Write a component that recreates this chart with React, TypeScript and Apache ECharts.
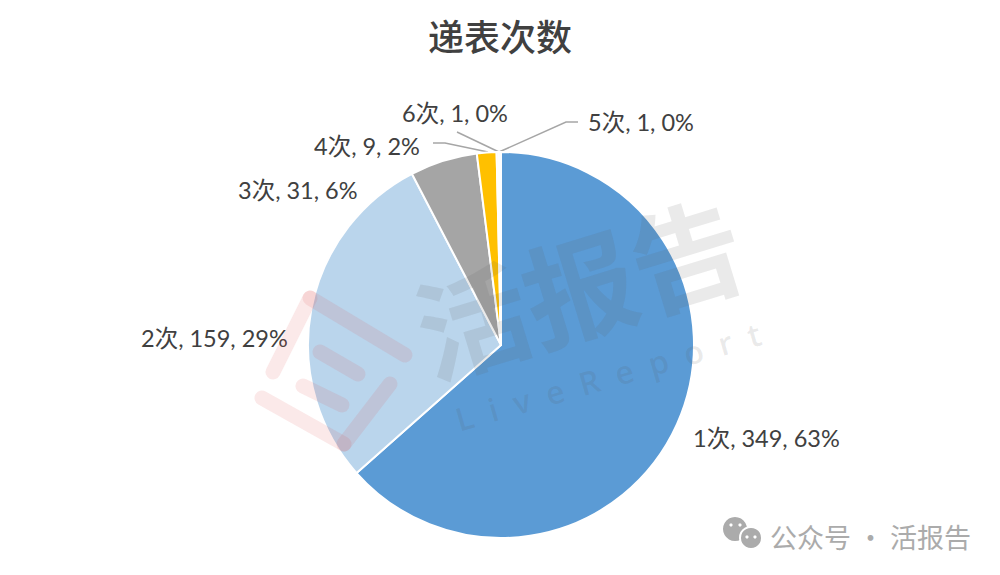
import React, { useEffect, useRef } from "react";
import * as echarts from "echarts";

const categories = ["1次", "2次", "3次", "4次", "5次", "6次"];
const values = [349, 159, 31, 9, 1, 1];
const colors = ["#5B9BD5", "#BAD5EC", "#A5A5A5", "#FFC000", "#FBF3D0", "#F3F6FA"];
const titleText = "递表次数";
const watermarkMain = "活报告";
const watermarkSub = "L  i  v  e  R  e  p  o  r  t";
const footerText = "公众号 · 活报告";

const labelSpots: any = [
  { x: 693, y: 438, align: "left" },
  { x: 141, y: 338, align: "left" },
  { x: 238, y: 190, align: "left" },
  { x: 314, y: 146, align: "left" },
  { x: 588, y: 122, align: "left" },
  { x: 402, y: 113, align: "left" },
];
const leaderLines: any = {
  3: [[433, 143], [445, 143], [488, 152]],
  4: [[578, 122], [566, 122], [499, 152]],
  5: [[457, 132], [478, 142], [499, 152]],
};

const FONT = "Lato, 'Noto Sans CJK SC', sans-serif";
const WM = "rgba(90,90,90,0.13)";
const RED = "rgba(226,70,70,0.12)";

const stroke = (x1: number, y1: number, x2: number, y2: number, lineWidth = 15) => ({
  type: "line",
  z: 50,
  silent: true,
  shape: { x1, y1, x2, y2 },
  style: { stroke: RED, lineWidth, lineCap: "round" },
});

export default function App() {
  const ref = useRef<HTMLDivElement>(null);
  useEffect(() => {
    document.body.style.margin = "0";
    const chart = echarts.init(ref.current!, null, { renderer: "svg" });
    chart.setOption({
      animation: false,
      backgroundColor: "#ffffff",
      title: {
        text: titleText,
        left: "center",
        top: 14,
        textStyle: { fontFamily: FONT, fontSize: 36, fontWeight: 500, color: "#404040" },
      },
      color: colors,
      series: [
        {
          type: "pie",
          center: [501, 345],
          radius: [0, 193],
          startAngle: 90,
          clockwise: true,
          percentPrecision: 0,
          avoidLabelOverlap: false,
          itemStyle: { borderColor: "#ffffff", borderWidth: 2 },
          label: {
            show: true,
            formatter: "{b}, {c}, {d}%",
            fontFamily: FONT,
            fontSize: 23.5,
            color: "#404040",
          },
          labelLine: { show: true, lineStyle: { color: "#A6A6A6", width: 1.5 } },
          labelLayout: (p: any) => {
            const s = labelSpots[p.dataIndex];
            const pts = leaderLines[p.dataIndex];
            return {
              x: s.x,
              y: s.y,
              align: s.align,
              verticalAlign: "middle",
              hideOverlap: false,
              labelLinePoints: pts || [[s.x, s.y], [s.x, s.y], [s.x, s.y]],
            };
          },
          data: categories.map((name, i) => ({ name, value: values[i] })),
        },
      ],
      graphic: [
        {
          type: "text",
          z: 50,
          silent: true,
          x: 578,
          y: 283,
          rotation: (17 * Math.PI) / 180,
          style: {
            text: watermarkMain,
            fontFamily: "'Noto Sans CJK SC', sans-serif",
            fontWeight: 700,
            fontSize: 112,
            fill: WM,
            align: "center",
            verticalAlign: "middle",
          },
        },
        {
          type: "text",
          z: 50,
          silent: true,
          x: 608,
          y: 376,
          rotation: (16 * Math.PI) / 180,
          style: {
            text: watermarkSub,
            fontFamily: "'Open Sans', sans-serif",
            fontWeight: 600,
            fontSize: 32,
            fill: WM,
            align: "center",
            verticalAlign: "middle",
          },
        },
        stroke(310, 298, 405, 355),
        stroke(310, 298, 273, 372),
        stroke(262, 398, 344, 444),
        stroke(344, 444, 390, 384),
        stroke(320, 352, 358, 374),
        stroke(303, 386, 342, 405),
        { type: "circle", z: 60, silent: true, shape: { cx: 735, cy: 529, r: 12 }, style: { fill: "#ABABAB" } },
        {
          type: "circle",
          z: 61,
          silent: true,
          shape: { cx: 751, cy: 538, r: 11 },
          style: { fill: "#ABABAB", stroke: "#ffffff", lineWidth: 2 },
        },
        ...[[731, 525], [740, 525], [747, 537], [755, 537]].map(([cx, cy]) => ({
          type: "circle",
          z: 62,
          silent: true,
          shape: { cx, cy, r: 1.6 },
          style: { fill: "#ffffff" },
        })),
        {
          type: "text",
          z: 60,
          silent: true,
          x: 770,
          y: 536,
          style: {
            text: footerText,
            fontFamily: "'Noto Sans CJK SC', sans-serif",
            fontSize: 27,
            fill: "#ABABAB",
            align: "left",
            verticalAlign: "middle",
          },
        },
      ],
    });
    return () => chart.dispose();
  }, []);
  return <div ref={ref} style={{ width: 1000, height: 575 }} />;
}
